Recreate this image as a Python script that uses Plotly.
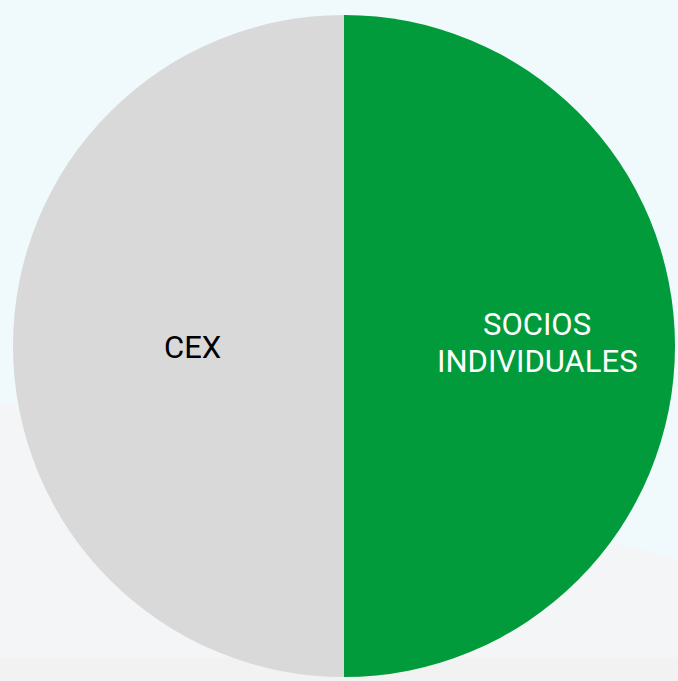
import plotly.graph_objects as go

labels = ["SOCIOS<br>INDIVIDUALES", "CEX"]
values = [50, 50]
colors = ["#019B3B", "#D9D9D9"]
text_colors = ["#FFFFFF", "#000000"]

W, H = 678, 681
cx, cy, r = 344, 346, 331
FONT = "Roboto, Arial, sans-serif"
FSIZE = 31
LINE_GAP = 37  # px between text lines

fig = go.Figure(
    go.Pie(
        labels=labels,
        values=values,
        sort=False,
        direction="clockwise",
        rotation=0,
        marker=dict(colors=colors, line=dict(width=0)),
        textinfo="none",
        showlegend=False,
        hoverinfo="label+percent",
        domain=dict(
            x=[(cx - r) / W, (cx + r) / W],
            y=[(H - cy - r) / H, (H - cy + r) / H],
        ),
    )
)

# label block centres relative to pie centre (px)
label_centres = [(193, -3), (-152, 1)]
annotations = []
for lab, col, (dx, dy) in zip(labels, text_colors, label_centres):
    lines = lab.split("<br>")
    n = len(lines)
    for i, line in enumerate(lines):
        px = cx + dx
        py = cy + dy + (i - (n - 1) / 2) * LINE_GAP
        annotations.append(
            dict(
                x=px / W,
                y=(H - py) / H,
                xref="paper",
                yref="paper",
                text=line,
                showarrow=False,
                xanchor="center",
                yanchor="middle",
                align="center",
                font=dict(family=FONT, size=FSIZE, color=col),
            )
        )

fig.update_layout(
    width=W,
    height=H,
    margin=dict(l=0, r=0, t=0, b=0),
    paper_bgcolor="#F0FAFD",
    plot_bgcolor="#F0FAFD",
    annotations=annotations,
    shapes=[
        dict(
            type="path",
            xref="paper",
            yref="paper",
            path="M 0 0.408 L 0.55 0.30 L 1 0.178 L 1 0 L 0 0 Z",
            fillcolor="#F4F5F7",
            line=dict(width=0),
            layer="below",
        ),
        dict(
            type="rect",
            xref="paper",
            yref="paper",
            x0=0, x1=1, y0=0, y1=0.035,
            fillcolor="#F2F2F2",
            line=dict(width=0),
            layer="below",
        ),
    ],
)

fig.write_html(
    "out.html",
    config={"displayModeBar": False},
    post_script="document.body.style.margin='0';document.body.style.padding='0';",
)
